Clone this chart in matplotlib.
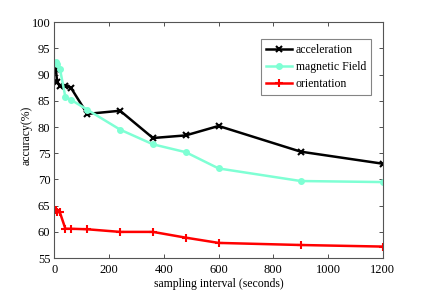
import matplotlib
matplotlib.use("Agg")
import matplotlib.pyplot as plt

interval = [5, 10, 20, 40, 60, 120, 240, 360, 480, 600, 900, 1200]
acceleration = [91.0, 88.6, 87.8, 87.9, 87.5, 82.5, 83.1, 77.9, 78.4, 80.2, 75.3, 73.0]
magnetic = [92.3, 92.1, 91.1, 85.7, 85.2, 83.3, 79.5, 76.7, 75.2, 72.1, 69.7, 69.5]
orientation = [64.1, 63.8, 63.7, 60.6, 60.6, 60.5, 60.0, 60.0, 58.9, 57.9, 57.5, 57.2]

xticks = [0, 200, 400, 600, 800, 1000, 1200]
yticks = [55, 60, 65, 70, 75, 80, 85, 90, 95, 100]

serif = ["Liberation Serif", "DejaVu Serif"]
plt.rcParams["font.family"] = serif

fig = plt.figure(figsize=(4.22, 2.91), dpi=100)
ax = fig.add_axes([0.129, 0.113, 0.778, 0.811])

ax.plot(interval, acceleration, color="black", lw=1.8, marker="x", ms=4, mew=1.5,
        label="acceleration")
ax.plot(interval, magnetic, color="#7FFFD4", lw=1.8, marker="o", ms=4,
        label="magnetic Field")
ax.plot(interval, orientation, color="#FF0000", lw=1.8, marker="+", ms=6, mew=1.5,
        label="orientation")

ax.set_xlim(0, 1200)
ax.set_ylim(55, 100)
ax.set_xticks(xticks)
ax.set_yticks(yticks)
ax.tick_params(direction="in", top=True, right=True, length=3, width=0.6,
               labelsize=9, colors="#333333", labelcolor="black", pad=3)
ax.tick_params(axis="x", pad=4)
for s in ax.spines.values():
    s.set_color("#555555")
    s.set_linewidth(0.8)

ax.set_xlabel("sampling interval (seconds)", fontsize=8.5)
ax.xaxis.set_label_coords(0.5, -0.083)
ax.set_ylabel("accuracy(%)", fontsize=8.5)
ax.yaxis.set_label_coords(-0.065, 0.52)

leg = ax.legend(loc="upper right", bbox_to_anchor=(0.963, 0.928), fontsize=8.5,
                frameon=True, fancybox=False, borderpad=0.4, labelspacing=0.45,
                handlelength=2.2, handletextpad=0.3, borderaxespad=0.0)
leg.get_frame().set_edgecolor("#666666")
leg.get_frame().set_linewidth(0.8)

fig.savefig("out.png", dpi=100)
